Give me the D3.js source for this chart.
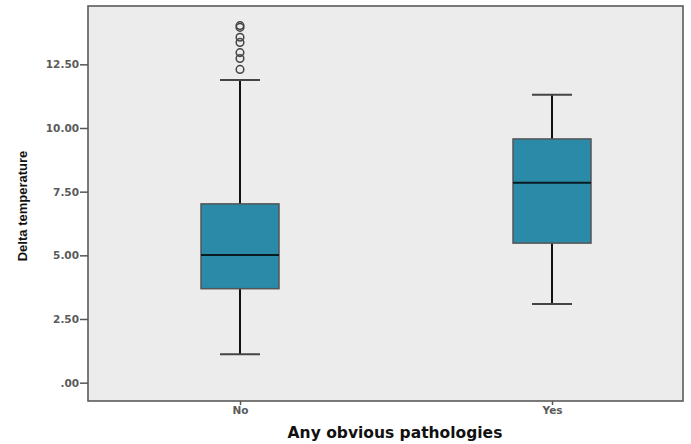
<!DOCTYPE html>
<html><head><meta charset="utf-8">
<script src="https://cdn.jsdelivr.net/npm/d3@7"></script>
<style>body{margin:0;background:#fff}svg{display:block}</style>
</head><body>
<svg id="c" width="691" height="444"></svg>
<script>
const categories = ["No", "Yes"];
const q1 = [3.69, 5.48];
const median = [5.01, 7.85];
const q3 = [7.02, 9.57];
const whiskerLow = [1.12, 3.09];
const whiskerHigh = [11.88, 11.31];
const outliersNo = [14.02, 13.95, 13.56, 13.36, 12.96, 12.73, 12.30];
const yTicks = [0, 2.5, 5, 7.5, 10, 12.5];
const yTickLabels = [".00", "2.50", "5.00", "7.50", "10.00", "12.50"];

const svg = d3.select("#c");
const L = 88, R = 683, T = 6, B = 401;
const y = d3.scaleLinear().domain([-0.72, 14.79]).range([B, T]);
const x = d3.scalePoint().domain(categories).range([240, 552]).padding(0);

svg.append("rect").attr("x", L).attr("y", T).attr("width", R - L).attr("height", B - T)
  .attr("fill", "#ececec").attr("stroke", "#5a5a5a").attr("stroke-width", 1.6);

// y axis
const ya = svg.append("g").attr("transform", `translate(${L},0)`)
  .call(d3.axisLeft(y).tickValues(yTicks).tickSize(8).tickPadding(1)
    .tickFormat((d, i) => yTickLabels[i]));
ya.select(".domain").remove();
ya.selectAll("line").attr("stroke", "#555").attr("stroke-width", 1.5);
ya.selectAll("text").attr("font-family", "DejaVu Sans, Verdana, sans-serif")
  .attr("font-size", 10.5).attr("font-weight", "bold").attr("fill", "#5a5a5a");

// x axis
const xa = svg.append("g").attr("transform", `translate(0,${B})`)
  .call(d3.axisBottom(x).tickSize(4).tickPadding(2));
xa.select(".domain").remove();
xa.selectAll("line").attr("stroke", "#555").attr("stroke-width", 1.5);
xa.selectAll("text").attr("font-family", "DejaVu Sans, Verdana, sans-serif")
  .attr("font-size", 10.5).attr("font-weight", "bold").attr("fill", "#5a5a5a");

const bw = 78, cw = 40;
const g = svg.append("g");
categories.forEach((c, i) => {
  const cx = x(c);
  g.append("line").attr("x1", cx).attr("x2", cx).attr("y1", y(whiskerHigh[i])).attr("y2", y(q3[i]))
    .attr("stroke", "#111").attr("stroke-width", 2);
  g.append("line").attr("x1", cx).attr("x2", cx).attr("y1", y(q1[i])).attr("y2", y(whiskerLow[i]))
    .attr("stroke", "#111").attr("stroke-width", 2);
  [whiskerHigh[i], whiskerLow[i]].forEach(v => {
    g.append("line").attr("x1", cx - cw / 2).attr("x2", cx + cw / 2).attr("y1", y(v)).attr("y2", y(v))
      .attr("stroke", "#444").attr("stroke-width", 2);
  });
  g.append("rect").attr("x", cx - bw / 2).attr("width", bw)
    .attr("y", y(q3[i])).attr("height", y(q1[i]) - y(q3[i]))
    .attr("fill", "#2a8aa8").attr("stroke", "#555").attr("stroke-width", 1.5);
  g.append("line").attr("x1", cx - bw / 2).attr("x2", cx + bw / 2).attr("y1", y(median[i])).attr("y2", y(median[i]))
    .attr("stroke", "#0a1a22").attr("stroke-width", 2);
});

g.selectAll("circle.o").data(outliersNo).enter().append("circle")
  .attr("cx", x("No")).attr("cy", d => y(d)).attr("r", 3.8)
  .attr("fill", "none").attr("stroke", "#444").attr("stroke-width", 1.5);

svg.append("text").attr("x", 395).attr("y", 438).attr("text-anchor", "middle")
  .attr("font-family", "DejaVu Sans, Verdana, sans-serif").attr("font-size", 15.5)
  .attr("font-weight", "bold").attr("fill", "#111").text("Any obvious pathologies");

svg.append("text").attr("transform", "translate(27,206) rotate(-90)").attr("text-anchor", "middle")
  .attr("font-family", "Liberation Sans Narrow, Arial Narrow, sans-serif").attr("font-size", 13)
  .attr("font-weight", "bold").attr("fill", "#111").text("Delta temperature");
</script>
</body></html>
